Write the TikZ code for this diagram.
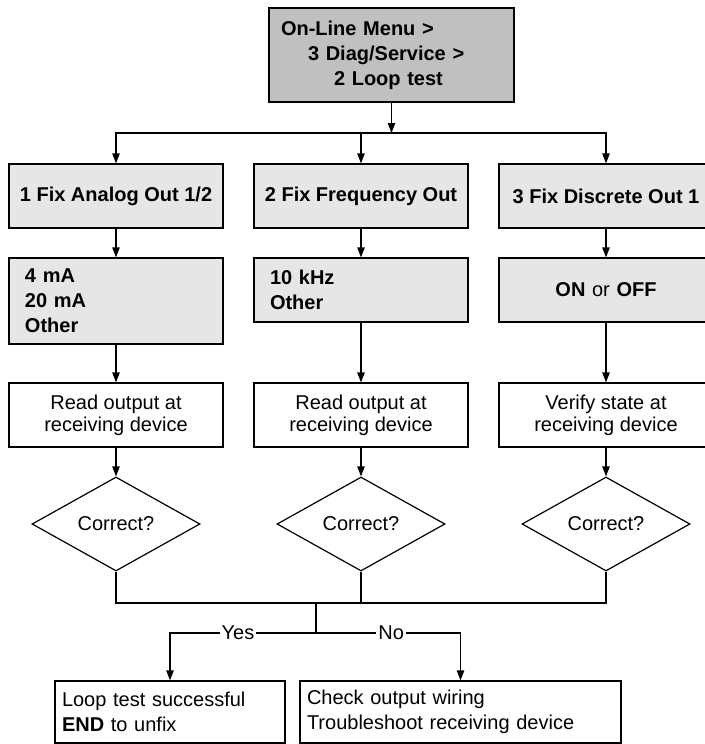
\documentclass[tikz,border=0pt]{standalone}
\usepackage{fontspec}
\setmainfont{Liberation Sans}
\definecolor{menugray}{RGB}{192,192,192}
\definecolor{optgray}{RGB}{230,230,230}
\usetikzlibrary{arrows.meta,shapes.geometric}

\begin{document}
\begin{tikzpicture}[
    x=0.5pt, y=-0.5pt,
    font=\fontsize{10}{12.5}\selectfont,
    every node/.style={line width=0.6pt},
    menubox/.style={rectangle, draw, fill=menugray, minimum width=122.5pt, minimum height=47pt, text width=110.5pt, inner xsep=6pt, align=left, font=\fontsize{10}{12.5}\selectfont\bfseries},
    fixbox/.style={rectangle, draw, fill=optgray, minimum width=107pt, minimum height=32pt, align=center, font=\fontsize{10}{12.5}\selectfont\bfseries},
    valbox/.style={rectangle, draw, fill=optgray, minimum width=107pt, minimum height=32pt, text width=91pt, inner xsep=8pt, align=left, font=\fontsize{10}{12.5}\selectfont\bfseries},
    readbox/.style={rectangle, draw, fill=white, minimum width=107pt, minimum height=32pt, align=center, font=\fontsize{10}{11}\selectfont},
    decision/.style={diamond, draw, minimum width=84pt, minimum height=47pt, inner sep=0pt},
    endbox/.style={rectangle, draw, minimum height=31pt, inner xsep=3.5pt, align=left},
    arrow/.style={-{Triangle[length=5pt, width=3.7pt]}, line width=0.6pt},
    line/.style={line width=0.6pt}
]
    \useasboundingbox (0,0) rectangle (705,744);

    % Menu path
    \node[menubox] (top) at (391.5,55) {On-Line Menu >\\\hspace*{13.5pt}3 Diag/Service >\\\hspace*{26.5pt}2 Loop test};

    % Loop test choices
    \node[fixbox] (fixA) at (116,196) {1 Fix Analog Out 1/2};
    \node[fixbox] (fixF) at (361,196) {2 Fix Frequency Out};
    \node[fixbox] (fixD) at (606,196) {3 Fix Discrete Out 1};

    % Fixed values
    \node[valbox, minimum height=43pt] (valA) at (116,301) {4 mA\\20 mA\\Other};
    \node[valbox] (valF) at (361,290) {10 kHz\\Other};
    \node[valbox, align=center] (valD) at (606,290) {ON {\mdseries or} OFF};

    % Checks at receiving device
    \node[readbox] (readA) at (116,415) {Read output at\\receiving device};
    \node[readbox] (readF) at (361,415) {Read output at\\receiving device};
    \node[readbox] (readD) at (606,415) {Verify state at\\receiving device};

    \node[decision] (chkA) at (116,524) {Correct?};
    \node[decision] (chkF) at (361,524) {Correct?};
    \node[decision] (chkD) at (606,524) {Correct?};

    % Results
    \node[endbox, minimum width=115pt, text width=108pt] (ok) at (170,712) {Loop test successful\\\textbf{END} to unfix};
    \node[endbox, minimum width=160.5pt, text width=153.5pt] (bad) at (460.5,712) {Check output wiring\\Troubleshoot receiving device};

    \coordinate (bus) at (391.5,133);
    \coordinate (join) at (316,603);
    \coordinate (fork) at (316,633);

    % Arrows
    \draw[arrow] (top) -- (bus);
    \foreach \c in {A,F,D} \draw[arrow] (bus) -| (fix\c);
    \foreach \c in {A,F,D} {
        \draw[arrow] (fix\c) -- (val\c);
        \draw[arrow] (val\c) -- (read\c);
        \draw[arrow] (read\c) -- (chk\c);
    }
    \draw[line] (chkA.south) -- (chkA.south |- join) -- (chkD.south |- join) -- (chkD.south);
    \draw[line] (chkF.south) -- (chkF.south |- join);
    \draw[line] (join) -- (fork);
    \draw[arrow] (fork) -| node[pos=0.267, fill=white, inner sep=1pt] (yes) {Yes} (ok);
    \draw[arrow] (fork) -| node[pos=0.26, fill=white, inner sep=1pt] (no) {No} (bad);
\end{tikzpicture}
\end{document}
